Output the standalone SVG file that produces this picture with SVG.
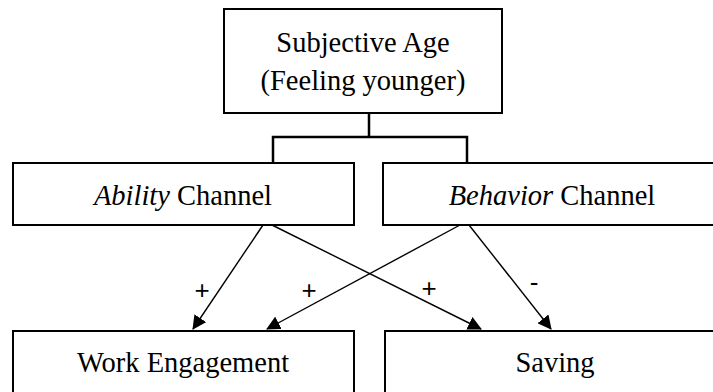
<svg xmlns="http://www.w3.org/2000/svg" width="713" height="392" viewBox="0 0 713 392">
  <style>
    .box { fill: #fff; stroke: #000; stroke-width: 2; }
    .t { font-family: "Liberation Serif", "Times New Roman", serif; font-size: 28.5px; fill: #000; text-anchor: middle; }
    .sign { font-family: "Liberation Sans", Arial, sans-serif; font-size: 26px; fill: #000; text-anchor: middle; }
    .tree { fill: none; stroke: #000; stroke-width: 2.5; }
    .arrow { fill: none; stroke: #000; stroke-width: 1.4; marker-end: url(#ah); }
  </style>
  <defs>
    <marker id="ah" viewBox="0 0 14 14" refX="13" refY="7" markerWidth="14" markerHeight="14" markerUnits="userSpaceOnUse" orient="auto">
      <path d="M0,0 L14,7 L0,14 z" fill="#000"/>
    </marker>
  </defs>
  <rect width="713" height="392" fill="#fff"/>

  <g id="subjective-age">
    <rect class="box" x="224" y="9" width="278" height="104"/>
    <text class="t" x="363" y="52">Subjective Age</text>
    <text class="t" x="363" y="90">(Feeling younger)</text>
  </g>

  <g id="ability-channel">
    <rect class="box" x="13" y="163" width="341" height="62"/>
    <text class="t" x="183" y="205"><tspan font-style="italic">Ability</tspan> Channel</text>
  </g>

  <g id="behavior-channel">
    <rect class="box" x="383" y="163" width="340" height="62"/>
    <text class="t" x="552" y="205"><tspan font-style="italic">Behavior</tspan> Channel</text>
  </g>

  <g id="work-engagement">
    <rect class="box" x="13" y="331" width="341" height="80"/>
    <text class="t" x="183" y="372">Work Engagement</text>
  </g>

  <g id="saving">
    <rect class="box" x="385" y="331" width="340" height="80"/>
    <text class="t" x="555" y="372">Saving</text>
  </g>

  <g id="connectors">
    <path class="tree" d="M369,113 V137 M273,163 V137 H467 V163"/>
    <line class="arrow" x1="263" y1="225" x2="193" y2="329"/>
    <line class="arrow" x1="272" y1="225" x2="481" y2="329"/>
    <line class="arrow" x1="460" y1="225" x2="267" y2="329"/>
    <line class="arrow" x1="469" y1="225" x2="551" y2="329"/>
    <text class="sign" x="202" y="299">+</text>
    <text class="sign" x="309" y="299">+</text>
    <text class="sign" x="429" y="297">+</text>
    <text class="sign" x="534" y="291">-</text>
  </g>
</svg>
